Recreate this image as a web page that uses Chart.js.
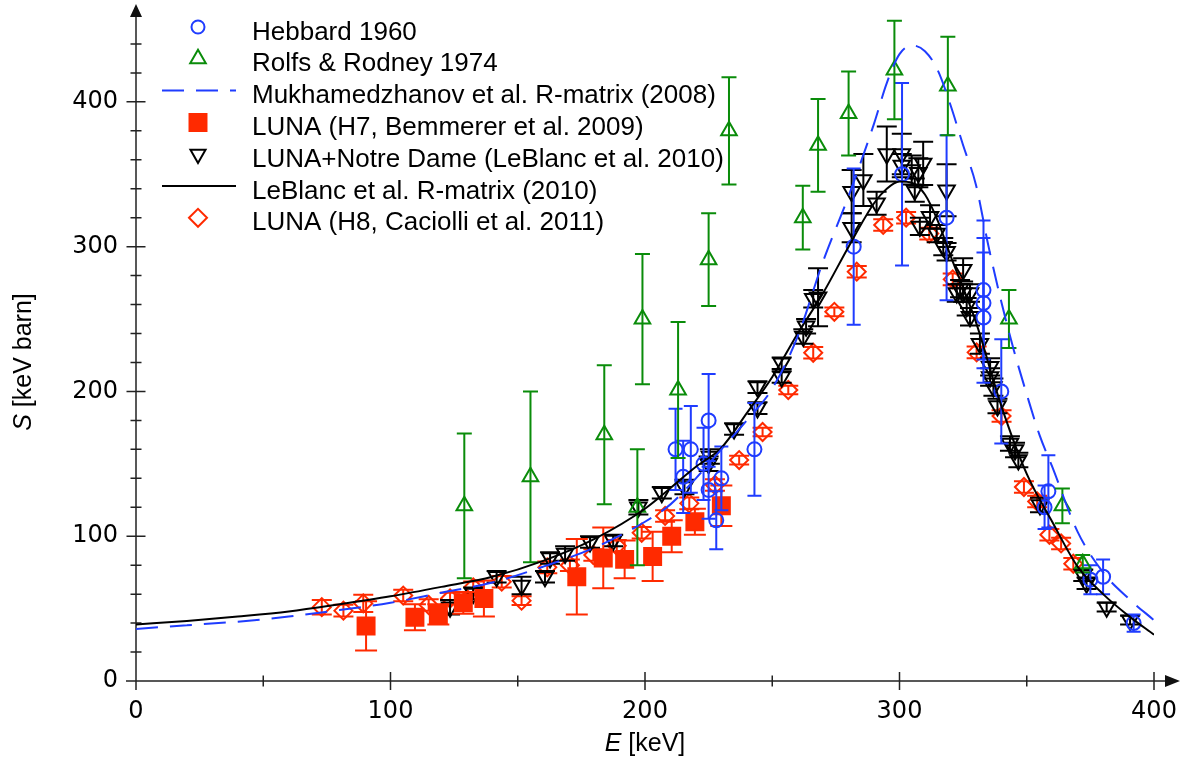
<!DOCTYPE html>
<html>
<head>
<meta charset="utf-8">
<script src="https://cdn.jsdelivr.net/npm/chart.js@4"></script>
<style>
  html, body { margin: 0; padding: 0; background: #fff; }
  #wrap { width: 1186px; height: 757px; }
</style>
</head>
<body>
<div id="wrap"><canvas id="c" width="1186" height="757"></canvas></div>
<script>
// axis ticks
const xMajor = [0, 100, 200, 300, 400];
const xMinor = [50, 150, 250, 350];
const yMajor = [0, 100, 200, 300, 400];
const yMinor = [20, 40, 60, 80, 120, 140, 160, 180, 220, 240, 260, 280, 320, 340, 360, 380, 420, 440];

// Hebbard 1960
const hebE   = [212, 215, 218, 223, 225, 225, 228, 230, 243, 282, 301, 318.5, 333, 333, 333, 340, 357, 358.5, 375, 380, 392];
const hebS   = [160, 141, 160, 150, 180, 132, 111, 140, 160, 300, 350, 320, 270, 261, 251, 200, 120, 131, 70, 72, 40];
const hebErr = [28, 25, 30, 25, 32, 20, 20, 22, 32, 54, 63, 57, 48, 45, 45, 36, 15, 25, 10, 12, 6];

// Rolfs & Rodney 1974
const rolE   = [129, 155, 184, 197, 199, 213, 225, 233, 262, 268, 280, 298, 319, 343, 364, 372];
const rolS   = [121, 141, 170, 120, 250, 201, 291, 380, 320, 370, 392, 422, 411, 250, 121, 81];
const rolErr = [50, 59, 48, 40, 45, 47, 32, 37, 22, 32, 29, 34, 34, 20, 12, 6];

// LUNA H7 (Bemmerer 2009)
const h7E   = [90.4, 109.6, 118.8, 128.6, 136.7, 173.2, 183.6, 192, 203, 210.5, 219.6, 230];
const h7S   = [38, 44, 46, 54, 57, 72, 85, 84, 86, 100, 110, 121];
const h7Err = [17, 9, 7, 7.5, 12.5, 26, 21, 13, 17, 11, 9, 14];

// LUNA + Notre Dame (LeBlanc 2010)
const ndE   = [123.4, 132.5, 141.7, 151.5, 160.7, 162.7, 168.6, 178.4, 187.5, 197.4, 206.6, 215.5, 225, 225.5, 235, 244.2, 244.2, 253.7, 253.7, 262.2,
               263.3, 266.1, 268, 281.2, 281.2, 285.8, 291, 295, 300.9, 300.9, 304.8, 306, 307.4, 308, 309.3, 312, 314.6, 317.2, 318.5, 318.5,
               322.5, 323.8, 325, 325, 326.4, 327.7, 327.7, 331.6, 335.6, 335.6, 336.9, 338.5, 343.4, 345.4, 346.7, 355.2, 372.2, 373.5, 381.4, 390.6];
const ndS   = [51, 60.5, 72, 66, 72, 85, 88, 96, 97, 120, 130, 134, 150, 155, 174, 188.5, 203, 210, 219.5, 238,
               245, 264, 265, 313, 338, 346, 330, 364, 364, 356, 353, 339, 351, 314, 357.5, 320.6, 309, 300, 296.5, 339,
               268, 271, 284, 268, 258.5, 268, 251.6, 233, 217, 210, 203, 190, 164, 159.5, 152.6, 121.5, 73, 67.5, 51, 42];
const ndErr = [5, 4, 4, 6, 4, 4, 5, 4, 4, 5, 4, 5, 5, 5, 4, 4, 4, 4, 4, 5,
               5, 6, 20, 10, 15, 18, 8, 19, 14, 8, 10, 8, 10, 6, 15, 8, 6, 6, 6, 18,
               6, 6, 8, 6, 6, 6, 6, 7, 6, 6, 6, 5, 5, 5, 5, 5, 4, 4, 3, 3];

// LUNA H8 (Caciolli 2011)
const h8E   = [73, 81.5, 89.3, 105, 115, 123.4, 132.5, 143.7, 151.5, 161.6, 170.5, 179.7, 188.9, 198.7, 207.9, 217.4, 227.5, 237, 246.2, 256.3,
               266.1, 274.4, 283.2, 293.6, 302.6, 311.7, 320.9, 330.3, 340.1, 348.9, 354.1, 358.9, 363.5, 368.3];
const h8S   = [51, 48.6, 53.6, 59, 52.5, 57, 64.7, 68.6, 55.5, 78.5, 80, 87, 93.4, 102.4, 114, 122.7, 135.4, 152.6, 172, 201,
               226.7, 255, 282.7, 315, 320, 309, 277.4, 227, 183, 134, 124, 101, 95, 81];
const h8Err = [5, 4, 6, 4, 4, 4, 4, 4, 3, 4, 4, 4, 4, 4, 4, 4, 4, 3, 3, 3,
               4, 3, 4, 4, 4, 4, 4, 4, 4, 4, 4, 4, 4, 4];

// R-matrix curves
const mukE = [0, 20, 40, 60, 80, 100, 120, 140, 160, 180, 200, 210, 220, 230, 240, 250, 260, 270, 280, 290,
              295, 300, 305, 310, 315, 320, 325, 330, 335, 340, 345, 350, 355, 360, 370, 380, 390, 400];
const mukS = [36, 38.5, 41, 44.5, 49, 54, 61, 68, 79, 92, 110, 122, 140, 160, 180, 202, 238, 290, 335, 385,
              413, 433, 439, 435, 422, 398, 370, 343, 300, 262, 228, 198, 170, 148, 103, 75, 57, 42];
const lebE = [0, 20, 40, 60, 80, 100, 120, 140, 160, 180, 200, 220, 230, 240, 250, 260, 270, 280, 290, 295,
              300, 305, 310, 315, 320, 330, 340, 350, 360, 370, 380, 390, 400];
const lebS = [39, 41.5, 44.5, 48, 53, 58.5, 65, 72, 83, 98, 119, 148, 161, 185, 210, 240, 268, 300, 330, 340,
              345, 344, 336, 318, 294, 248, 190, 143, 110, 79, 60, 45, 32];

const BLUE = '#1f3cff', GREEN = '#0a8c0a', RED = '#ff2a00', BLACK = '#000';

const pts = (xs, ys) => xs.map((v, i) => ({ x: v, y: ys[i] }));

const errorBars = {
  id: 'errorBars',
  beforeDatasetDraw(chart, args) {
    const ds = chart.data.datasets[args.index];
    if (!ds.errors) return;
    const y = chart.scales.y, ctx = chart.ctx;
    ctx.save();
    ctx.strokeStyle = ds.borderColor;
    ctx.lineWidth = 2;
    args.meta.data.forEach((pt, i) => {
      const v = ds.data[i].y, e = ds.errors[i], w = ds.capHalf;
      const top = y.getPixelForValue(v + e), bot = y.getPixelForValue(v - e);
      ctx.beginPath();
      ctx.moveTo(pt.x, top); ctx.lineTo(pt.x, bot);
      ctx.moveTo(pt.x - w, top); ctx.lineTo(pt.x + w, top);
      ctx.moveTo(pt.x - w, bot); ctx.lineTo(pt.x + w, bot);
      ctx.stroke();
    });
    ctx.restore();
  }
};

const axesDraw = {
  id: 'axesDraw',
  beforeDatasetsDraw(chart) {
    const { ctx, scales: { x, y } } = chart;
    const x0 = x.getPixelForValue(0), y0 = y.getPixelForValue(0);
    ctx.save();
    ctx.strokeStyle = '#222';
    ctx.fillStyle = '#111';
    ctx.lineWidth = 1.5;
    ctx.beginPath();
    ctx.moveTo(x0 - 10, y0); ctx.lineTo(1167, y0);
    ctx.moveTo(x0, y0 + 9); ctx.lineTo(x0, 16);
    xMajor.forEach(v => { const p = x.getPixelForValue(v); ctx.moveTo(p, y0 - 9); ctx.lineTo(p, y0 + 9); });
    xMinor.forEach(v => { const p = x.getPixelForValue(v); ctx.moveTo(p, y0 - 5.5); ctx.lineTo(p, y0 + 5.5); });
    yMajor.forEach(v => { const p = y.getPixelForValue(v); ctx.moveTo(x0 - 9.5, p); ctx.lineTo(x0 + 9.5, p); });
    yMinor.forEach(v => { const p = y.getPixelForValue(v); ctx.moveTo(x0 - 5.5, p); ctx.lineTo(x0 + 5.5, p); });
    ctx.stroke();
    // arrows
    ctx.beginPath();
    ctx.moveTo(1180, y0); ctx.lineTo(1165, y0 - 6); ctx.lineTo(1165, y0 + 6); ctx.closePath();
    ctx.moveTo(x0, 4); ctx.lineTo(x0 - 6, 17); ctx.lineTo(x0 + 6, 17); ctx.closePath();
    ctx.fill();
    ctx.restore();
  },
  afterDraw(chart) {
    const ctx = chart.ctx;
    ctx.save();
    ctx.fillStyle = '#000';
    // x title
    const it = 'italic 25px "Liberation Sans", Arial, sans-serif';
    const nt = '25px "Liberation Sans", Arial, sans-serif';
    ctx.font = it; const wE = ctx.measureText('E').width;
    ctx.font = nt; const wR = ctx.measureText(' [keV]').width;
    let sx = 645 - (wE + wR) / 2;
    ctx.textBaseline = 'alphabetic';
    ctx.font = it; ctx.fillText('E', sx, 751);
    ctx.font = nt; ctx.fillText(' [keV]', sx + wE, 751);
    // y title
    ctx.translate(31, 362);
    ctx.rotate(-Math.PI / 2);
    ctx.font = it; const wS = ctx.measureText('S').width;
    ctx.font = nt; const wR2 = ctx.measureText(' [keV barn]').width;
    sx = -(wS + wR2) / 2;
    ctx.font = it; ctx.fillText('S', sx, 0);
    ctx.font = nt; ctx.fillText(' [keV barn]', sx + wS, 0);
    ctx.restore();

    // legend
    ctx.save();
    const items = [
      { label: 'Hebbard 1960', kind: 'pt', style: 'circle', r: 6.5, color: BLUE, fill: false },
      { label: 'Rolfs & Rodney 1974', kind: 'pt', style: 'triangle', r: 9, color: GREEN, fill: false },
      { label: 'Mukhamedzhanov et al. R-matrix (2008)', kind: 'line', color: BLUE, dash: [22, 12] },
      { label: 'LUNA (H7, Bemmerer et al. 2009)', kind: 'pt', style: 'rect', r: 12, color: RED, fill: true },
      { label: 'LUNA+Notre Dame (LeBlanc et al. 2010)', kind: 'pt', style: 'triangle', r: 8.7, rot: 180, color: BLACK, fill: false },
      { label: 'LeBlanc et al. R-matrix (2010)', kind: 'line', color: BLACK, dash: [] },
      { label: 'LUNA (H8, Caciolli et al. 2011)', kind: 'pt', style: 'rectRot', r: 9, color: RED, fill: false }
    ];
    items.forEach((it2, i) => {
      const cy = 27 + i * 31.8;
      if (it2.kind === 'line') {
        ctx.strokeStyle = it2.color; ctx.lineWidth = 2; ctx.setLineDash(it2.dash);
        ctx.beginPath(); ctx.moveTo(162, cy); ctx.lineTo(236, cy); ctx.stroke();
        ctx.setLineDash([]);
      } else {
        ctx.strokeStyle = it2.color; ctx.fillStyle = it2.fill ? it2.color : 'rgba(0,0,0,0)';
        ctx.lineWidth = 2;
        Chart.helpers.drawPoint(ctx, { pointStyle: it2.style, radius: it2.r, rotation: it2.rot || 0, borderWidth: 2 }, 198, cy);
      }
      ctx.fillStyle = '#000';
      ctx.font = '26px "Liberation Sans", Arial, sans-serif';
      ctx.textBaseline = 'alphabetic';
      ctx.fillText(it2.label, 252, cy + 12.6);
    });
    ctx.restore();
  }
};

const scatterSet = (label, xs, ys, errs, style, r, color, fill, capHalf, rot) => ({
  type: 'scatter', label, data: pts(xs, ys), errors: errs, capHalf,
  pointStyle: style, pointRadius: r, pointRotation: rot || 0,
  borderColor: color, pointBorderColor: color,
  backgroundColor: fill ? color : 'rgba(0,0,0,0)', pointBackgroundColor: fill ? color : 'rgba(0,0,0,0)',
  pointBorderWidth: 2, showLine: false
});

new Chart(document.getElementById('c'), {
  type: 'scatter',
  data: {
    datasets: [
      { type: 'line', label: 'Mukhamedzhanov et al. R-matrix (2008)', data: pts(mukE, mukS),
        borderColor: BLUE, borderWidth: 2, borderDash: [22, 12], pointRadius: 0, fill: false,
        cubicInterpolationMode: 'monotone' },
      { type: 'line', label: 'LeBlanc et al. R-matrix (2010)', data: pts(lebE, lebS),
        borderColor: BLACK, borderWidth: 2, pointRadius: 0, fill: false,
        cubicInterpolationMode: 'monotone' },
      scatterSet('Rolfs & Rodney 1974', rolE, rolS, rolErr, 'triangle', 9, GREEN, false, 7.5),
      scatterSet('Hebbard 1960', hebE, hebS, hebErr, 'circle', 7, BLUE, false, 7),
      scatterSet('LUNA (H7, Bemmerer et al. 2009)', h7E, h7S, h7Err, 'rect', 12, RED, true, 11),
      scatterSet('LUNA+Notre Dame (LeBlanc et al. 2010)', ndE, ndS, ndErr, 'triangle', 9.5, BLACK, false, 10, 180),
      scatterSet('LUNA (H8, Caciolli et al. 2011)', h8E, h8S, h8Err, 'rectRot', 9, RED, false, 10)
    ]
  },
  options: {
    responsive: false,
    animation: false,
    devicePixelRatio: 1,
    events: [],
    layout: { padding: { left: 0, right: 32, top: 15, bottom: 0 } },
    plugins: { legend: { display: false }, tooltip: { enabled: false } },
    scales: {
      x: {
        type: 'linear', min: 0, max: 400,
        grid: { display: false, drawTicks: false }, border: { display: false },
        afterBuildTicks: s => { s.ticks = xMajor.map(v => ({ value: v })); },
        afterFit: s => { s.height = 76; s.paddingLeft = 0; s.paddingRight = 0; },
        ticks: { font: { family: 'DejaVu Sans', size: 24 }, color: '#000', padding: 16, maxRotation: 0, autoSkip: false }
      },
      y: {
        type: 'linear', min: 0, max: 460,
        grid: { display: false, drawTicks: false }, border: { display: false },
        afterBuildTicks: s => { s.ticks = yMajor.map(v => ({ value: v })); },
        afterFit: s => { s.width = 136; s.paddingTop = 0; s.paddingBottom = 0; },
        ticks: { font: { family: 'DejaVu Sans', size: 24 }, color: '#000', padding: 18, autoSkip: false }
      }
    }
  },
  plugins: [axesDraw, errorBars]
});
</script>
</body>
</html>
